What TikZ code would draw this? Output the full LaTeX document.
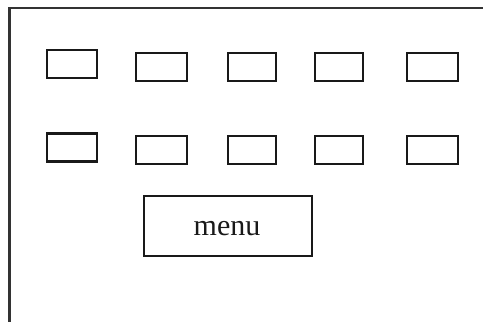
\documentclass[tikz,border=0pt]{standalone}
\usepackage{fontspec}
\setmainfont{Liberation Serif}
\begin{document}
\begin{tikzpicture}[x=1pt,y=-1pt,
  keybox/.style={draw=black!90,line width=2.5pt,rectangle,inner sep=0pt},
  menubox/.style={draw=black!90,line width=2.3pt,rectangle,inner sep=0pt,minimum width=168pt,minimum height=60pt}]
\useasboundingbox (0,0) rectangle (483,322);
\draw[draw=black!80,line width=2.4pt] (9.5,322) -- (9.5,8) -- (483,8);
% row 1
\node[keybox,minimum width=50pt,minimum height=28pt] (a1) at (72,64) {};
\node[keybox,minimum width=51pt,minimum height=28pt] (a2) at (161.5,67) {};
\node[keybox,minimum width=48pt,minimum height=28pt] (a3) at (252,67) {};
\node[keybox,minimum width=48pt,minimum height=28pt] (a4) at (339,67) {};
\node[keybox,minimum width=51pt,minimum height=28pt] (a5) at (432.5,67) {};
% row 2
\node[keybox,minimum width=50pt,minimum height=28pt] (b1) at (72,147.5) {};
\node[keybox,minimum width=51pt,minimum height=28pt] (b2) at (161.5,150) {};
\node[keybox,minimum width=48pt,minimum height=28pt] (b3) at (252,150) {};
\node[keybox,minimum width=48pt,minimum height=28pt] (b4) at (339,150) {};
\node[keybox,minimum width=51pt,minimum height=28pt] (b5) at (432.5,150) {};
% menu
\node[menubox] (menu) at (228,226) {};
\node[font=\fontsize{30}{32}\selectfont,inner sep=0pt,text=black!90] (menutext) at (227,229) {menu};
\end{tikzpicture}
\end{document}
